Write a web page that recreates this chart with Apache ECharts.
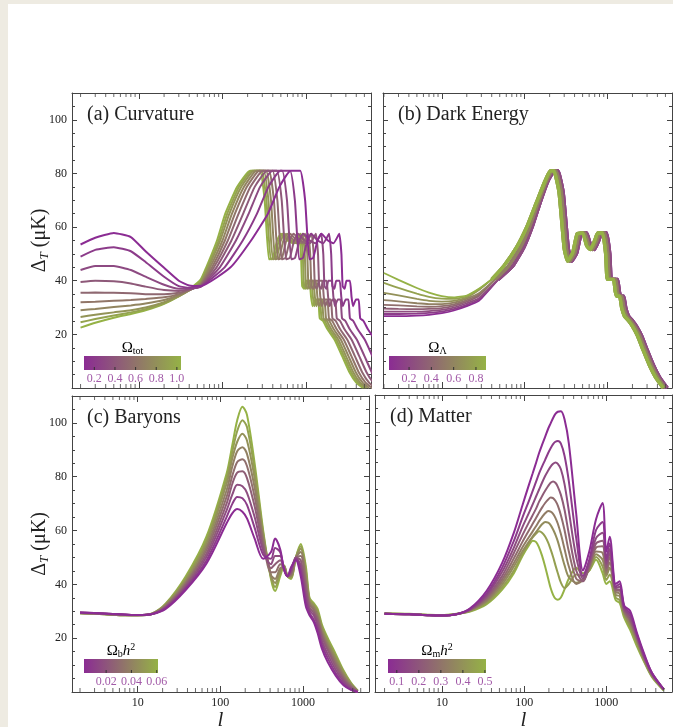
<!DOCTYPE html>
<html>
<head>
<meta charset="utf-8">
<script src="https://cdn.jsdelivr.net/npm/echarts@6/dist/echarts.min.js"></script>
<style>
html, body { margin: 0; padding: 0; background: #eeebe2; }
#card { position: absolute; left: 8px; top: 4px; width: 665px; height: 723px; background: #fff; }
#main { position: absolute; left: 0; top: 0; width: 673px; height: 727px; }
</style>
</head>
<body>
<div id="card"></div>
<div id="main"></div>
<script>
// ------------------ shared axis ticks ------------------
var lMinorTicks = [2, 3, 4, 5, 6, 7, 8, 9, 20, 30, 40, 50, 60, 70, 80, 90,
    200, 300, 400, 500, 600, 700, 800, 900, 2000, 3000, 4000, 5000];

// ------------------ (a) Curvature ------------------
var omegaTot = [0.1, 0.2, 0.3, 0.4, 0.5, 0.6, 0.7, 0.8, 0.9, 1.0];
var curvBarLabels = ['0.2', '0.4', '0.6', '0.8', '1.0'];
var curvLowL = [2, 3, 5, 8, 12, 20, 30, 40, 55];
var curvLowY = [
    [53.5, 56, 57.8, 56.3, 51, 44.8, 40, 38.2, 38],
    [49, 51.5, 52.5, 51, 47, 41.5, 38, 37.4, 37.8],
    [44, 45.5, 45.5, 44, 41.5, 38.5, 37, 37, 37.8],
    [39.5, 40, 39.8, 39, 37.8, 36.5, 36.2, 36.8, 38],
    [35.5, 35.6, 35.5, 35.3, 35, 35, 35.5, 36.6, 38.2],
    [32, 32.2, 32.5, 32.8, 33.2, 33.8, 35, 36.5, 38.5],
    [29, 29.5, 30.2, 30.8, 31.5, 32.8, 34.6, 36.4, 38.8],
    [26.5, 27.3, 28.2, 29, 30, 32, 34.3, 36.4, 39.2],
    [24.5, 25.7, 27, 28.2, 29.4, 31.6, 34.2, 36.5, 39.8],
    [22.5, 24.3, 26.2, 27.6, 29, 31.4, 34.3, 36.8, 40.5]
];
var curvRiseY = [45, 55, 65, 75];
var curvRiseL = [
    [125, 220, 350, 480],
    [106, 175, 259, 355],
    [93, 145, 206, 282],
    [85, 128, 177, 243],
    [79, 116, 156, 216],
    [75, 107, 141, 196],
    [71, 100, 130, 181],
    [68, 94, 121, 168],
    [66, 90, 114, 158],
    [64, 86, 108, 150]
];
var curvPeakY = [81, 81, 70, 48, 48.5, 55, 57.5, 55, 54, 57.5, 50, 38, 37, 40, 40, 34, 30.5, 33, 33, 26, 25, 22, 18, 12, 6, 2, 0];
var curvPeakL = [
    [653, 854, 976, 1098, 1220, 1373, 1525, 1830, 2135, 2501, 2654, 2745, 2898, 3050, 3355, 3508, 3660, 3965, 4270, 4453, 4880, 5490, 6710, 8235, 10065, 12200, 14640],
    [492, 644, 736, 828, 920, 1035, 1150, 1380, 1610, 1886, 2001, 2070, 2185, 2300, 2530, 2645, 2760, 2990, 3220, 3358, 3680, 4140, 5060, 6210, 7590, 9200, 11040],
    [396, 518, 592, 666, 740, 833, 925, 1110, 1295, 1517, 1610, 1665, 1758, 1850, 2035, 2128, 2220, 2405, 2590, 2701, 2960, 3330, 4070, 4995, 6105, 7400, 8880],
    [342, 448, 512, 576, 640, 720, 800, 960, 1120, 1312, 1392, 1440, 1520, 1600, 1760, 1840, 1920, 2080, 2240, 2336, 2560, 2880, 3520, 4320, 5280, 6400, 7680],
    [304, 398, 454, 511, 568, 639, 710, 852, 994, 1164, 1235, 1278, 1349, 1420, 1562, 1633, 1704, 1846, 1988, 2073, 2272, 2556, 3124, 3834, 4686, 5680, 6816],
    [276, 361, 413, 464, 516, 581, 645, 774, 903, 1058, 1122, 1161, 1226, 1290, 1419, 1484, 1548, 1677, 1806, 1883, 2064, 2322, 2838, 3483, 4257, 5160, 6192],
    [255, 333, 381, 428, 476, 536, 595, 714, 833, 976, 1035, 1071, 1131, 1190, 1309, 1369, 1428, 1547, 1666, 1737, 1904, 2142, 2618, 3213, 3927, 4760, 5712],
    [238, 311, 355, 400, 444, 500, 555, 666, 777, 910, 966, 999, 1055, 1110, 1221, 1277, 1332, 1443, 1554, 1621, 1776, 1998, 2442, 2997, 3663, 4440, 5328],
    [225, 294, 336, 378, 420, 473, 525, 630, 735, 861, 914, 945, 998, 1050, 1155, 1208, 1260, 1365, 1470, 1533, 1680, 1890, 2310, 2835, 3465, 4200, 5040],
    [214, 280, 320, 360, 400, 450, 500, 600, 700, 820, 870, 900, 950, 1000, 1100, 1150, 1200, 1300, 1400, 1460, 1600, 1800, 2200, 2700, 3300, 4000, 4800]
];

// ------------------ (b) Dark Energy ------------------
var omegaLambda = [0.1, 0.2, 0.3, 0.4, 0.5, 0.6, 0.7, 0.8, 0.9];
var deBarLabels = ['0.2', '0.4', '0.6', '0.8'];
var deLowL = [2, 3, 5, 7, 10, 14, 20, 28];
var deLowY = [
    [26.8, 26.8, 27, 27.3, 27.9, 28.9, 30.5, 32.5],
    [27.6, 27.6, 27.7, 28, 28.5, 29.4, 31, 33],
    [28.5, 28.5, 28.5, 28.7, 29.1, 30, 31.6, 33.5],
    [29.6, 29.5, 29.4, 29.5, 29.8, 30.6, 32.2, 34.3],
    [31, 30.8, 30.4, 30.3, 30.5, 31.2, 32.8, 34.8],
    [32.8, 32.3, 31.6, 31.3, 31.3, 31.8, 33.3, 35.3],
    [35.5, 34.5, 33.2, 32.5, 32.2, 32.5, 33.8, 36.5],
    [39.2, 37.3, 35.2, 34, 33.3, 33.2, 34.2, 36.8],
    [42.9, 40.3, 37.3, 35.6, 34.3, 33.8, 34.5, 37]
];
var deBandY = [40.5, 45.5, 52.5, 60.3, 69.5, 77, 81, 81, 73, 52, 47.3, 50.5, 57.5, 57.8, 53, 51.6, 55, 57.8, 57.8, 50,
    40.5, 40.5, 40.5, 36, 34.2, 34.2, 30, 26.8, 25, 23, 19.5, 14, 8.5, 4, 0];
var deBandLPurple = [48, 72, 98, 124, 155, 190, 230, 252, 291, 336, 370, 426, 482, 560, 627, 694, 784, 851, 974, 1064,
    1109, 1187, 1322, 1389, 1445, 1568, 1658, 1792, 2016, 2240, 2576, 3024, 3584, 4256, 5264];
var deBandLMid = [44, 64, 89, 115, 147, 182, 216, 238, 276, 318, 350, 403, 456, 530, 594, 657, 742, 806, 922, 1007,
    1049, 1124, 1251, 1314, 1367, 1484, 1569, 1696, 1908, 2120, 2438, 2862, 3392, 4028, 4982];
var deBandLGreen = [40, 56, 80, 107, 140, 175, 204, 225, 260, 300, 330, 380, 430, 500, 560, 620, 700, 760, 870, 950,
    990, 1060, 1180, 1240, 1290, 1400, 1480, 1600, 1800, 2000, 2300, 2700, 3200, 3800, 4700];
var deBandGroup = [0, 0, 0, 1, 1, 1, 2, 2, 2];

// ------------------ (c) Baryons ------------------
var omegaBh2 = [0.005, 0.012, 0.019, 0.026, 0.033, 0.040, 0.047, 0.054, 0.061];
var baryonBarLabels = ['0.02', '0.04', '0.06'];
var baryonL = [2, 4, 7, 10, 15, 22, 38, 68, 119, 140, 160, 185, 210, 260, 330, 410, 460, 530, 590, 650,
    720, 820, 940, 1080, 1200, 1350, 1500, 1700, 2000, 2500, 3100, 3800, 4600];
var baryonY = [
    [29.5, 29.2, 28.8, 28.6, 29, 31, 37.9, 47.8, 62.7, 66.5, 68, 67, 64.5, 57, 49.5, 52, 57, 53, 45.5, 43, 46.5, 49, 43, 32, 28.5, 26, 22, 16, 11, 6, 2.5, 0.8, 0],
    [29.5, 29.2, 28.8, 28.6, 29, 31.3, 38.5, 49, 65, 70, 72.5, 72, 69.5, 61, 51, 49.5, 53.5, 52, 45.5, 43, 46, 49.5, 45, 34, 29.5, 27, 23.5, 17.5, 12.5, 7, 3.2, 1, 0],
    [29.5, 29.1, 28.7, 28.6, 29, 31.5, 39, 50.3, 67.5, 73.5, 77, 76.5, 74, 65, 52.5, 47.5, 50.5, 50.5, 45.5, 43, 45, 50, 47, 36, 30.5, 28.5, 25, 19, 14, 8.2, 4, 1.4, 0],
    [29.4, 29.1, 28.7, 28.6, 29, 31.8, 39.6, 51.5, 70, 77.5, 81.5, 82, 79.5, 69, 54, 46, 47.5, 49, 46, 43, 44.5, 50, 49, 38.5, 31.5, 29.5, 26.5, 20.5, 15.5, 9.4, 4.8, 1.8, 0.1],
    [29.4, 29, 28.6, 28.5, 29.1, 32, 40.2, 52.8, 72.5, 80.5, 85.5, 86.5, 84, 72.5, 55.5, 44.5, 44.5, 47.5, 46.3, 43, 43.8, 50, 50.5, 40.5, 32.5, 30.5, 27.5, 21.5, 16.5, 10.5, 5.5, 2.2, 0.2],
    [29.4, 29, 28.6, 28.5, 29.1, 32.3, 40.8, 54, 75, 84, 89.5, 91, 88.5, 76, 57, 43.5, 42, 46, 46.5, 43, 43.2, 50, 52, 42.5, 33.3, 31.3, 28.5, 22.5, 17.5, 11.5, 6.2, 2.6, 0.3],
    [29.3, 28.9, 28.5, 28.5, 29.1, 32.5, 41.5, 55.3, 77.5, 87, 93, 96, 93.5, 79.5, 58, 43, 40.5, 45, 46.8, 43, 42.8, 50, 53.2, 44, 34, 32, 29.5, 23.5, 18.5, 12.5, 7, 3, 0.4],
    [29.3, 28.9, 28.5, 28.5, 29.2, 32.8, 42.2, 56.5, 79.5, 89.5, 97, 101, 98.5, 82.5, 59, 42.5, 39, 44, 47, 43, 42.4, 50, 54.2, 45.5, 34.5, 32.5, 30.2, 24.2, 19.2, 13.2, 7.5, 3.2, 0.45],
    [29.3, 28.9, 28.5, 28.5, 29.2, 33, 42.9, 57.8, 81.2, 92, 101, 106, 103, 85, 60, 42, 37.5, 43, 47, 43, 42, 50, 55, 47, 35, 33, 31, 25, 20, 14, 8, 3.5, 0.5]
];

// ------------------ (d) Matter ------------------
var omegaMh2 = [0.08, 0.13, 0.18, 0.23, 0.28, 0.33, 0.38, 0.44, 0.5];
var matterBarLabels = ['0.1', '0.2', '0.3', '0.4', '0.5'];
var matterL = [2, 4, 7, 10, 15, 22, 35, 54, 75, 95, 115, 127, 140, 152, 165, 180, 196, 210, 225, 240,
    257, 280, 310, 350, 430, 520, 620, 750, 900, 1000, 1100, 1300, 1450, 1650, 1950, 2350, 2900, 3600, 5000];
var matterY = [
    [29, 28.8, 28.4, 28.3, 28.8, 31, 37.5, 47.8, 59, 69, 77, 81, 85, 88.5, 91.5, 94.5, 97.5, 99.5, 101.5, 103, 103.8, 104, 101, 92, 66, 45, 52, 64, 70, 52, 57.5, 40, 41, 32, 30, 22, 14, 7, 1],
    [29, 28.8, 28.4, 28.3, 28.8, 30.8, 36.5, 46, 56, 64.5, 71, 74.5, 78, 81, 83.5, 86, 88.5, 90.3, 91.8, 92.7, 93, 92, 87.5, 78, 57, 43, 49, 60, 63, 49, 55, 39, 40, 31.5, 29, 21.5, 13.5, 7, 1],
    [29, 28.8, 28.4, 28.3, 28.8, 30.6, 35.8, 44.5, 53.5, 61, 66.5, 69.5, 72.5, 75, 77.5, 80, 82, 83.5, 84.5, 85, 84.5, 82.5, 77, 67, 50, 42, 48, 57, 59, 47.5, 53, 38.5, 39, 31, 28, 21, 13, 6.8, 1],
    [29, 28.8, 28.4, 28.3, 28.8, 30.5, 35.2, 43, 51.5, 58, 63, 65.5, 68, 70.5, 72.5, 74.5, 76.3, 77.5, 78, 77.5, 76, 73, 67.5, 58.5, 45, 41, 47, 55, 56, 46, 51.5, 38, 38, 30.5, 27, 20.5, 12.8, 6.6, 1],
    [29, 28.8, 28.4, 28.3, 28.8, 30.4, 34.6, 41.8, 49.5, 55.5, 60, 62.3, 64.5, 66.5, 68.3, 70, 71.3, 72, 71.8, 70.8, 69, 65.5, 60, 52, 42, 41, 46.5, 53.5, 54, 45, 50, 37.5, 37.5, 30, 26.5, 20, 12.5, 6.4, 1],
    [29, 28.8, 28.4, 28.3, 28.8, 30.3, 34, 40.8, 47.8, 53.5, 57.5, 59.5, 61.5, 63.3, 64.8, 66.2, 67, 66.8, 66, 64.5, 62.3, 58.5, 53, 46.5, 40, 41.5, 46, 52, 51.5, 44, 48, 37, 36.5, 29.5, 26, 19.5, 12.2, 6.2, 1],
    [29.1, 28.9, 28.5, 28.4, 28.9, 30.2, 33.6, 39.8, 46.5, 52, 55.8, 57.6, 59.3, 60.8, 62.1, 63, 62.7, 61.8, 60.2, 58.3, 55.8, 51.8, 47, 42.5, 40.5, 42, 45.5, 51, 49, 43, 46, 36, 35.5, 29, 25, 18.8, 11.8, 6, 0.8],
    [29.1, 28.9, 28.5, 28.4, 28.9, 30, 33, 38.8, 45, 51, 55.5, 57.3, 58.7, 59.5, 59, 57.6, 55.3, 52.8, 50, 47, 44, 40.5, 38.5, 40, 43.5, 43, 45, 50, 46.5, 41.5, 43.5, 35, 34, 28.5, 24, 18, 11.4, 5.8, 0.7],
    [29.2, 29, 28.6, 28.5, 29, 29.8, 32.5, 37.9, 44, 50.3, 54.5, 56, 55.5, 53.5, 50.5, 46.5, 42, 38.5, 36, 34.6, 34.2, 35, 38, 42, 46, 44, 45, 49, 44, 40, 41, 34, 33, 27.5, 23, 17, 11, 5.5, 0.5]
];

// ------------------ styles ------------------
var SERIF = "'Liberation Serif', 'DejaVu Serif', serif";
var INK = '#222';
var FRAME = '#444';
var PURPLE = '#8b2c93';
var GREEN = '#95b246';
var BAR_LABEL = '#a25aa8';

function zip(xs, ys) {
    return xs.map(function (x, i) { return [x, ys[i]]; });
}

function paramColor(list, v) {
    var t = (v - list[0]) / (list[list.length - 1] - list[0]);
    return echarts.color.lerp(t, [PURPLE, GREEN]);
}

function decadeLabel(v) {
    var e = Math.log(v) / Math.LN10;
    return Math.abs(e - Math.round(e)) < 1e-6 ? String(Math.round(v)) : '';
}

var panels = [
    {grid: {left: 72, top: 93, width: 299, height: 295}, xMin: 1.58, xMax: 6000, yLabels: true, xLabels: false, title: '(a) Curvature'},
    {grid: {left: 383, top: 93, width: 289, height: 295}, xMin: 1.95, xMax: 6000, yLabels: false, xLabels: false, title: '(b) Dark Energy'},
    {grid: {left: 72, top: 396, width: 297, height: 296}, xMin: 1.6, xMax: 6300, yLabels: true, xLabels: true, title: '(c) Baryons'},
    {grid: {left: 375, top: 395, width: 297, height: 297}, xMin: 1.53, xMax: 6300, yLabels: false, xLabels: true, title: '(d) Matter'}
];

var grids = [], xAxes = [], yAxes = [], titles = [], series = [];

panels.forEach(function (p, i) {
    grids.push({
        left: p.grid.left, top: p.grid.top, width: p.grid.width, height: p.grid.height,
        containLabel: false, outerBoundsMode: 'none'
    });
    titles.push({
        text: p.title, left: p.grid.left + 15, top: p.grid.top + 12, padding: 0,
        textStyle: {fontFamily: SERIF, fontSize: 20, fontWeight: 'normal', color: INK, lineHeight: 20}
    });
    [false, true].forEach(function (top) {
        var lab = !top && p.xLabels;
        xAxes.push({
            type: 'log', logBase: 10, gridIndex: i, position: top ? 'top' : 'bottom',
            min: p.xMin, max: p.xMax, splitNumber: 3,
            axisLine: {show: true, onZero: false, lineStyle: {color: FRAME, width: 1}},
            axisTick: {show: true, inside: true, length: 6, lineStyle: {color: FRAME}},
            axisLabel: {show: lab, margin: 5, fontFamily: SERIF, fontSize: 12, color: INK, formatter: decadeLabel},
            splitLine: {show: false},
            name: lab ? 'l' : '', nameLocation: 'middle', nameGap: 16,
            nameTextStyle: {fontFamily: SERIF, fontSize: 21, fontStyle: 'italic', color: INK}
        });
    });
    [false, true].forEach(function (right) {
        var lab = !right && p.yLabels;
        yAxes.push({
            type: 'value', gridIndex: i, position: right ? 'right' : 'left',
            min: 0, max: 110, interval: 20,
            axisLine: {show: true, onZero: false, lineStyle: {color: FRAME, width: 1}},
            axisTick: {show: true, inside: true, length: 5, lineStyle: {color: FRAME}},
            minorTick: {show: true, splitNumber: 4, length: 3, lineStyle: {color: FRAME}},
            axisLabel: {
                show: lab, margin: 5, fontFamily: SERIF, fontSize: 12, color: INK,
                formatter: function (v) { return (v > 0 && v <= 100) ? String(v) : ''; }
            },
            splitLine: {show: false},
            name: lab ? '{d|Δ}{t|T}{d| (μK)}' : '', nameLocation: 'middle', nameGap: 21, nameRotate: 90,
            nameMoveOverlap: false,
            nameTextStyle: {
                rich: {
                    d: {fontFamily: SERIF, fontSize: 20, color: INK},
                    t: {fontFamily: SERIF, fontSize: 13, fontStyle: 'italic', color: INK, padding: [9, 0, 0, 0]}
                }
            }
        });
    });
    // minor decade ticks (2..9) on the bottom and top frame
    [[0, -2], [110, 2]].forEach(function (edge) {
        series.push({
            type: 'scatter', xAxisIndex: 2 * i, yAxisIndex: 2 * i, silent: true, clip: false, z: 5,
            symbol: 'rect', symbolSize: [1, 4], symbolOffset: [0, edge[1]],
            itemStyle: {color: FRAME},
            data: lMinorTicks.filter(function (l) { return l > p.xMin && l < p.xMax; })
                .map(function (l) { return [l, edge[0]]; })
        });
    });
});

function addLine(panel, name, data, color, width, smooth) {
    series.push({
        name: name, type: 'line', xAxisIndex: 2 * panel, yAxisIndex: 2 * panel,
        data: data, symbol: 'none', smooth: smooth, silent: true,
        lineStyle: {color: color, width: width}
    });
}

// (a) green first, purple drawn on top
for (var k = omegaTot.length - 1; k >= 0; k--) {
    addLine(0, 'Ωtot ' + omegaTot[k],
        zip(curvLowL, curvLowY[k]).concat(zip(curvRiseL[k], curvRiseY), zip(curvPeakL[k], curvPeakY)),
        paramColor(omegaTot, omegaTot[k]), 2, 0.15);
}
// (b) purple first, green on top; thin low-l tails, thick acoustic band
var deBandL = [deBandLPurple, deBandLMid, deBandLGreen];
for (k = 0; k < omegaLambda.length; k++) {
    var deBand = zip(deBandL[deBandGroup[k]], deBandY);
    var deColor = paramColor(omegaLambda, omegaLambda[k]);
    addLine(1, 'ΩΛ ' + omegaLambda[k], zip(deLowL, deLowY[k]).concat(deBand.slice(0, 1)), deColor, 1.8, 0.15);
    addLine(1, 'ΩΛ ' + omegaLambda[k], deBand, deColor, 3.4, 0.15);
}
// (c) green first, purple on top
for (k = omegaBh2.length - 1; k >= 0; k--) {
    addLine(2, 'Ωbh2 ' + omegaBh2[k], zip(baryonL, baryonY[k]), paramColor(omegaBh2, omegaBh2[k]), 2, 0.3);
}
// (d) green first, purple on top
for (k = omegaMh2.length - 1; k >= 0; k--) {
    addLine(3, 'Ωmh2 ' + omegaMh2[k], zip(matterL, matterY[k]), paramColor(omegaMh2, omegaMh2[k]), 2, 0.3);
}

// ------------------ colour bars ------------------
var barRich = {
    o: {fontFamily: SERIF, fontSize: 15, color: INK},
    s: {fontFamily: SERIF, fontSize: 10, color: INK, padding: [7, 0, 0, 0]},
    i: {fontFamily: SERIF, fontSize: 15, fontStyle: 'italic', color: INK},
    p: {fontFamily: SERIF, fontSize: 10, color: INK, padding: [0, 0, 7, 0]}
};

function colorBar(x, y, w, h, vmin, vmax, labels, title) {
    var els = [{
        type: 'rect', silent: true, shape: {x: x, y: y, width: w, height: h},
        style: {fill: new echarts.graphic.LinearGradient(0, 0, 1, 0, [
            {offset: 0, color: PURPLE}, {offset: 1, color: GREEN}])}
    }, {
        type: 'text', silent: true, x: x + w / 2, y: y - 8,
        style: {text: title, rich: barRich, align: 'center', verticalAlign: 'middle'}
    }];
    labels.forEach(function (s) {
        var px = x + (parseFloat(s) - vmin) / (vmax - vmin) * w;
        els.push({
            type: 'text', silent: true, x: px, y: y + h + 9,
            style: {text: s, fontFamily: SERIF, fontSize: 12, fill: BAR_LABEL, align: 'center', verticalAlign: 'middle'}
        });
        els.push({
            type: 'line', silent: true, shape: {x1: px, y1: y + h, x2: px, y2: y + h - 3},
            style: {stroke: '#333', lineWidth: 1}
        });
    });
    return els;
}

var graphics = [].concat(
    colorBar(84, 356, 97, 14, 0.1, 1.04, curvBarLabels, '{o|Ω}{s|tot}'),
    colorBar(389, 356, 97, 14, 0.02, 0.89, deBarLabels, '{o|Ω}{s|Λ}'),
    colorBar(84, 659, 74, 14, 0.0025, 0.061, baryonBarLabels, '{o|Ω}{s|b}{i|h}{p|2}'),
    colorBar(388, 659, 98, 14, 0.06, 0.505, matterBarLabels, '{o|Ω}{s|m}{i|h}{p|2}')
);

var myChart = echarts.init(document.getElementById('main'), null, {renderer: 'canvas'});
myChart.setOption({
    animation: false,
    backgroundColor: 'transparent',
    title: titles,
    grid: grids,
    xAxis: xAxes,
    yAxis: yAxes,
    series: series,
    graphic: graphics
});
</script>
</body>
</html>
